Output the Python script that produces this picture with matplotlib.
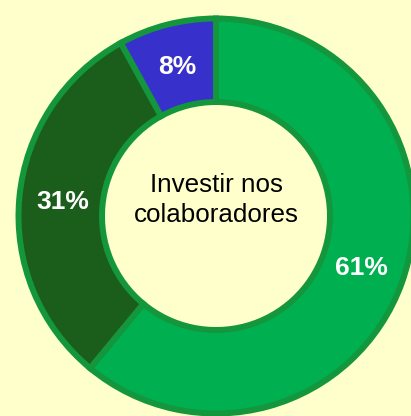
import matplotlib.pyplot as plt

# Share of answers
labels = ["Sim", "Parcialmente", "Não"]
values = [61, 31, 8]
colors = ["#00AF50", "#1B5E1B", "#3830CA"]
center_text = "Investir nos\ncolaboradores"

bg = "#FFFFCC"
edge = "#13963C"

fig = plt.figure(figsize=(4.11, 4.16), dpi=100, facecolor=bg)
ax = fig.add_axes([0, 0, 1, 1])
ax.set_facecolor(bg)

# Donut chart, first slice starting at 12 o'clock and going clockwise
wedges, texts, autotexts = ax.pie(
    values, colors=colors, startangle=90, counterclock=False,
    center=(216, 200), radius=197.5,
    autopct=lambda p: f"{p:.0f}%", pctdistance=0.78,
    wedgeprops=dict(width=83.5, edgecolor=edge, linewidth=4.3),
    textprops=dict(color="white", fontsize=19, fontweight="bold",
                   family="Liberation Sans"),
    frame=True,
)
ax.set_xlim(0, 411)
ax.set_ylim(0, 416)
ax.set_aspect("equal")
ax.axis("off")

ax.text(216, 216, center_text, ha="center", va="center", fontsize=18.7,
        family="Liberation Sans", color="black", linespacing=1.3)

plt.savefig("out.png", dpi=100, facecolor=bg)
